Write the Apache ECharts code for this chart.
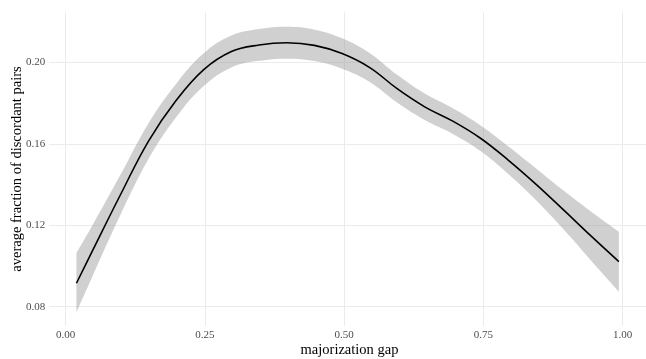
<!DOCTYPE html>
<html>
<head>
<meta charset="utf-8">
<script src="https://cdn.jsdelivr.net/npm/echarts@6/dist/echarts.min.js"></script>
<style>
html,body{margin:0;padding:0;background:#fff;}
#chart{width:646px;height:359px;}
</style>
</head>
<body>
<div id="chart"></div>
<script>
// x positions (majorization gap)
const gap = [0.02,0.05,0.10,0.15,0.20,0.25,0.30,0.35,0.40,0.45,0.50,0.55,0.60,0.65,0.70,0.75,0.80,0.85,0.90,0.95,1.00];
// smoothed mean fraction of discordant pairs
const fitValues = [0.0915,0.1080,0.1352,0.1612,0.1812,0.1964,0.2053,0.2085,0.2096,0.2083,0.2043,0.1974,0.1869,0.1780,0.1711,0.1627,0.1520,0.1402,0.1275,0.1146,0.1021];
// confidence band
const lowerValues = [0.0771,0.0955,0.1254,0.1524,0.1730,0.1884,0.1975,0.2007,0.2018,0.2006,0.1968,0.1903,0.1801,0.1715,0.1648,0.1564,0.1452,0.1324,0.1180,0.1026,0.0874];
const upperValues = [0.1063,0.1205,0.1450,0.1700,0.1894,0.2044,0.2131,0.2163,0.2174,0.2160,0.2118,0.2045,0.1937,0.1845,0.1774,0.1690,0.1588,0.1480,0.1370,0.1266,0.1168];
// tick labels
const xTicks = [0, 0.25, 0.5, 0.75, 1];
const yTicks = [0.08, 0.12, 0.16, 0.20];
const xTitle = 'majorization gap';
const yTitle = 'average fraction of discordant pairs';

const FONT = '"Liberation Serif", "DejaVu Serif", serif';
const GRID_COLOR = '#ebebeb';

// value first, x second, so that stacking happens on the value dimension
const lowerData = gap.map((x, i) => [lowerValues[i], x]);
const bandData = gap.map((x, i) => [upperValues[i] - lowerValues[i], x]);
const fitData = gap.map((x, i) => [x, fitValues[i]]);

const chart = echarts.init(document.getElementById('chart'), null, {renderer: 'canvas'});
chart.setOption({
  animation: false,
  backgroundColor: '#ffffff',
  grid: [
    {left: 49.3, top: 12.4, width: 600.5, height: 313.6},
    {left: 65.5, top: 12.4, width: 557, height: 313.6},
    {left: 49.3, top: 62.3, width: 600.5, height: 244.4}
  ],
  xAxis: [
    {gridIndex: 0, type: 'value', min: -0.029, max: 1.049, show: false},
    {gridIndex: 1, type: 'value', min: xTicks[0], max: xTicks[xTicks.length-1], interval: 0.25,
      axisLine: {show: false}, axisTick: {show: false},
      splitLine: {show: true, lineStyle: {color: GRID_COLOR, width: 1}},
      axisLabel: {margin: 4, color: '#4d4d4d', fontFamily: FONT, fontSize: 11,
        formatter: v => v.toFixed(2)}},
    {gridIndex: 2, type: 'value', min: 0, max: 1, show: false}
  ],
  yAxis: [
    {gridIndex: 0, type: 'value', min: 0.0705, max: 0.2245, show: false},
    {gridIndex: 1, type: 'value', min: 0, max: 1, show: false},
    {gridIndex: 2, type: 'value', min: yTicks[0], max: yTicks[yTicks.length-1], interval: 0.04,
      axisLine: {show: false}, axisTick: {show: false},
      splitLine: {show: true, lineStyle: {color: GRID_COLOR, width: 1}},
      axisLabel: {margin: 4, color: '#4d4d4d', fontFamily: FONT, fontSize: 11,
        formatter: v => v.toFixed(2)}}
  ],
  graphic: [
    {type: 'text', x: 349.5, y: 350,
      style: {text: xTitle, font: '14.5px ' + FONT, fill: '#000', align: 'center', verticalAlign: 'middle'}},
    {type: 'text', rotation: Math.PI / 2, x: 17.5, y: 169,
      style: {text: yTitle, font: '14.5px ' + FONT, fill: '#000', align: 'center', verticalAlign: 'middle'}}
  ],
  series: [
    {type: 'line', xAxisIndex: 0, yAxisIndex: 0, data: lowerData, encode: {x: 1, y: 0}, stack: 'band',
      symbol: 'none', smooth: 0.4, lineStyle: {opacity: 0}, silent: true},
    {type: 'line', xAxisIndex: 0, yAxisIndex: 0, data: bandData, encode: {x: 1, y: 0}, stack: 'band',
      symbol: 'none', smooth: 0.4, lineStyle: {opacity: 0},
      areaStyle: {color: 'rgba(153,153,153,0.46)', opacity: 1}, silent: true},
    {type: 'line', xAxisIndex: 0, yAxisIndex: 0, data: fitData,
      symbol: 'none', smooth: 0.4, lineStyle: {color: '#000', width: 1.6}, z: 3}
  ]
});
</script>
</body>
</html>
